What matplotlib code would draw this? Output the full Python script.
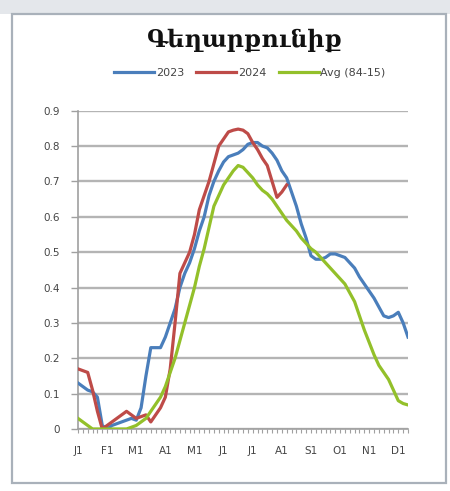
import matplotlib
matplotlib.use("Agg")
import matplotlib.pyplot as plt
from matplotlib.patches import Rectangle
import numpy as np

title = "Գեղարքունիք"
series_names = ["2023", "2024", "Avg (84-15)"]
month_labels = ["J1", "F1", "M1", "A1", "M1", "J1", "J1", "A1", "S1", "O1", "N1", "D1"]
label_every = 6

v2023 = [0.13, 0.12, 0.11, 0.105, 0.09, 0.01, 0.0, 0.01, 0.015, 0.02, 0.025, 0.03,
         0.025, 0.06, 0.15, 0.23, 0.23, 0.23, 0.26, 0.30, 0.34, 0.40, 0.44, 0.47,
         0.51, 0.56, 0.60, 0.66, 0.70, 0.73, 0.755, 0.77, 0.775, 0.78, 0.79, 0.805,
         0.81, 0.81, 0.80, 0.795, 0.78, 0.76, 0.73, 0.71, 0.67, 0.63, 0.58, 0.54,
         0.49, 0.48, 0.48, 0.485, 0.495, 0.495, 0.49, 0.485, 0.47, 0.455, 0.43, 0.41,
         0.39, 0.37, 0.345, 0.32, 0.315, 0.32, 0.33, 0.30, 0.26]
v2024 = [0.17, 0.165, 0.16, 0.11, 0.05, 0.0, 0.01, 0.02, 0.03, 0.04, 0.05, 0.04,
         0.03, 0.035, 0.04, 0.02, 0.04, 0.06, 0.09, 0.17, 0.30, 0.44, 0.47, 0.50,
         0.55, 0.62, 0.66, 0.70, 0.75, 0.80, 0.82, 0.84, 0.845, 0.848, 0.845, 0.835,
         0.81, 0.79, 0.765, 0.745, 0.70, 0.655, 0.67, 0.69]
vavg = [0.03, 0.02, 0.01, 0.0, 0.0, 0.0, 0.0, 0.0, 0.0, 0.0, 0.0, 0.005,
        0.01, 0.02, 0.03, 0.05, 0.07, 0.09, 0.12, 0.16, 0.20, 0.25, 0.30, 0.35,
        0.40, 0.46, 0.51, 0.57, 0.63, 0.66, 0.69, 0.71, 0.73, 0.745, 0.74, 0.725,
        0.71, 0.69, 0.675, 0.665, 0.65, 0.63, 0.61, 0.59, 0.575, 0.56, 0.54, 0.525,
        0.51, 0.50, 0.485, 0.47, 0.455, 0.44, 0.425, 0.41, 0.385, 0.36, 0.32, 0.28,
        0.245, 0.21, 0.18, 0.16, 0.14, 0.11, 0.08, 0.072, 0.068]

colors = ["#4a7ebb", "#be4b48", "#93c02a"]

W, H = 450, 491
fig = plt.figure(figsize=(W / 100, H / 100), dpi=100)
fig.patch.set_facecolor("white")

# window frame
fig.patches.append(Rectangle((0, 1 - 14 / H), 1, 14 / H, transform=fig.transFigure,
                             facecolor="#e4e7eb", edgecolor="none", zorder=0))
fig.patches.append(Rectangle((12 / W, 1 - 483 / H), 434 / W, 469 / H, transform=fig.transFigure,
                             facecolor="none", edgecolor="#a9b1ba", linewidth=1.6, zorder=0))

ax = fig.add_axes([78 / W, 1 - 429 / H, 330 / W, (429 - 110.7) / H])
ax.set_facecolor("none")
ax.set_zorder(2)

n = len(v2023)
x23 = np.arange(len(v2023))
x24 = np.arange(len(v2024))
xav = np.arange(len(vavg))
lines = []
for xs, ys, c, name in [(x23, v2023, colors[0], series_names[0]),
                        (x24, v2024, colors[1], series_names[1]),
                        (xav, vavg, colors[2], series_names[2])]:
    ln, = ax.plot(xs, ys, color=c, lw=2.3, label=name, solid_joinstyle="round", zorder=3)
    lines.append(ln)

ax.set_xlim(0, n - 1)
ax.set_ylim(0, 0.9)
yt = np.round(np.arange(0, 0.91, 0.1), 1)
ax.set_yticks(yt)
ax.set_yticklabels(["0"] + [f"{v:.1f}" for v in yt[1:]])
ax.yaxis.grid(True, color="#b4b4b4", lw=1.7)
ax.set_axisbelow(True)

ax.set_xticks(np.arange(0, label_every * len(month_labels), label_every))
ax.set_xticklabels(month_labels)
ax.set_xticks(np.arange(0, n), minor=True)

for s in ["top", "right"]:
    ax.spines[s].set_visible(False)
for s in ["left", "bottom"]:
    ax.spines[s].set_color("#a0a0a0")
    ax.spines[s].set_linewidth(1.2)

ax.tick_params(axis="y", length=5, width=1, color="#a0a0a0", labelsize=7.5,
               labelcolor="#454545", pad=8)
ax.tick_params(axis="x", which="both", length=3, width=0.8, color="#a0a0a0",
               labelsize=7.5, labelcolor="#454545", pad=9)
for lab in ax.get_xticklabels() + ax.get_yticklabels():
    lab.set_family("DejaVu Sans")

fig.text(245 / W, 1 - 40 / H, title, ha="center", va="center",
         fontsize=17, fontweight="bold", family="DejaVu Serif", color="#111111")

leg = fig.legend(handles=lines, loc="center", bbox_to_anchor=(250 / W, 1 - 73 / H),
                 ncol=3, frameon=False, handlelength=3.6, handletextpad=0.15,
                 columnspacing=1.1, prop={"family": "DejaVu Sans", "size": 8})
for t in leg.get_texts():
    t.set_color("#454545")

fig.savefig("out.png", dpi=100)
